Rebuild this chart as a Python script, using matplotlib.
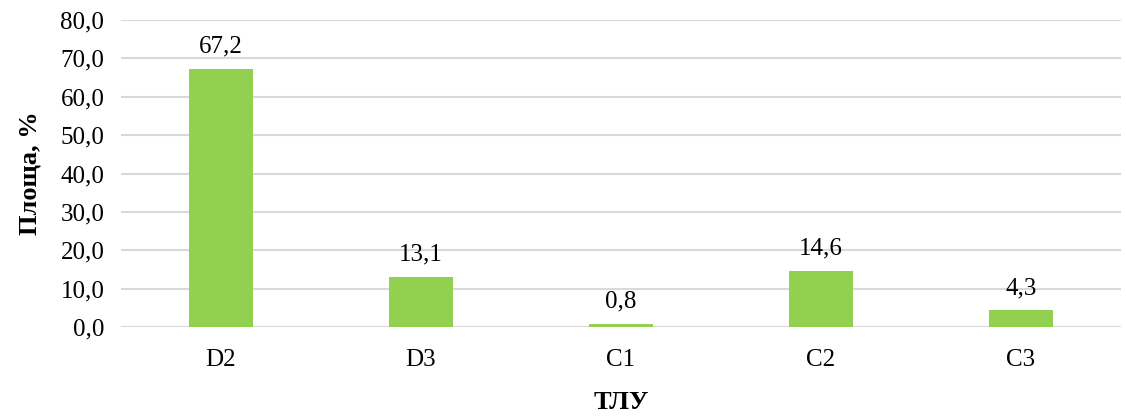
import numpy as np
import matplotlib as mpl
import matplotlib.pyplot as plt

mpl.rcParams['font.family'] = 'Liberation Serif'

# data
cat_labels = ['D2', 'D3', 'C1', 'C2', 'C3']
values = [67.2, 13.1, 0.8, 14.6, 4.3]
yticks = [0, 10, 20, 30, 40, 50, 60, 70, 80]

bar_green = '#92d050'
grid_grey = '#d9d9d9'

fig = plt.figure(figsize=(11.26, 4.16), dpi=100)
ax = fig.add_axes([121/1126, 89/416, 1000/1126, 307/416])

x = np.arange(len(values))
ax.bar(x, values, width=0.32, color=bar_green, zorder=3)

for xi, v in zip(x, values):
    ax.text(xi, v + 3.0, '{:.1f}'.format(v).replace('.', ','),
            ha='center', va='bottom', fontsize=18)

ax.set_xlim(-0.5, len(values) - 0.5)
ax.set_ylim(0, 80)
ax.set_yticks(yticks)
ax.set_yticklabels(['{:.1f}'.format(t).replace('.', ',') for t in yticks], fontsize=18)
ax.set_xticks(x)
ax.set_xticklabels(cat_labels, fontsize=18)
ax.tick_params(axis='both', length=0)
ax.tick_params(axis='x', pad=16)
ax.tick_params(axis='y', pad=12)

ax.grid(axis='y', color=grid_grey, linewidth=1.5, zorder=0)
for s in ax.spines.values():
    s.set_visible(False)

ax.set_ylabel('Площа, %', fontsize=19, fontweight='bold', labelpad=14)
ax.set_xlabel('ТЛУ', fontsize=19, fontweight='bold', labelpad=14)

fig.savefig('out.png', dpi=100)
